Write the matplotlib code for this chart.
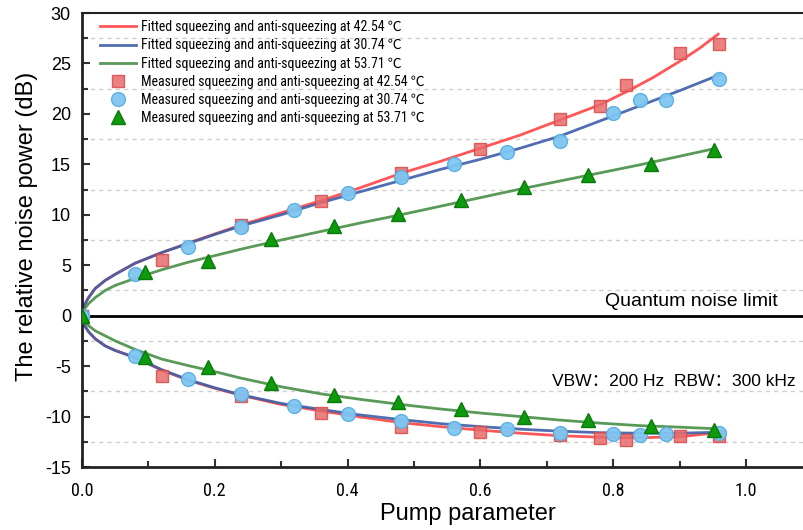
import matplotlib
matplotlib.use('Agg')
import matplotlib.pyplot as plt
from matplotlib import font_manager
from matplotlib.ticker import MultipleLocator

names = {f.name for f in font_manager.fontManager.ttflist}
NARROW = None
for cand in ['Liberation Sans Narrow', 'Arial Narrow', 'Roboto Condensed', 'Open Sans Condensed']:
    if cand in names:
        NARROW = cand
        break
plt.rcParams['font.family'] = ['Liberation Sans', 'Noto Sans CJK SC', 'DejaVu Sans']

# ---------------- data ----------------
temps = ['42.54', '30.74', '53.71']

# fitted curves
fit_x_red = [0, 0.004, 0.01, 0.02, 0.035, 0.05, 0.08, 0.12, 0.16, 0.2, 0.24, 0.3, 0.36, 0.42, 0.48,
             0.54, 0.6, 0.66, 0.72, 0.78, 0.82, 0.86, 0.9, 0.93, 0.958]
fit_up_red = [0, 1.1, 1.8, 2.7, 3.5, 4.1, 5.2, 6.25, 7.2, 8.1, 9.0, 10.2, 11.4, 12.7, 14.1,
              15.3, 16.6, 17.9, 19.4, 20.9, 22.2, 23.6, 25.2, 26.5, 27.9]
fit_x_red_lo = [0, 0.004, 0.01, 0.02, 0.035, 0.05, 0.08, 0.12, 0.16, 0.2, 0.24, 0.3, 0.36, 0.42, 0.48,
                0.54, 0.6, 0.66, 0.72, 0.78, 0.84, 0.9, 0.958]
fit_lo_red = [0, -1.0, -1.6, -2.3, -3.0, -3.45, -4.15, -5.4, -6.4, -7.2, -7.9, -8.8, -9.45, -10.05, -10.6,
              -11.0, -11.35, -11.65, -11.9, -12.05, -12.1, -12.0, -11.6]

fit_x_blue = [0, 0.004, 0.01, 0.02, 0.035, 0.05, 0.08, 0.12, 0.16, 0.2, 0.24, 0.3, 0.36, 0.42, 0.48,
              0.54, 0.6, 0.66, 0.72, 0.78, 0.84, 0.9, 0.961]
fit_up_blue = [0, 1.1, 1.8, 2.7, 3.5, 4.1, 5.2, 6.25, 7.15, 8.05, 8.9, 10.0, 11.2, 12.3, 13.4,
               14.5, 15.5, 16.6, 17.8, 19.3, 20.8, 22.3, 23.9]
fit_lo_blue = [0, -1.0, -1.6, -2.3, -3.0, -3.45, -4.15, -5.35, -6.35, -7.15, -7.85, -8.7, -9.3, -9.85, -10.3,
               -10.7, -11.0, -11.25, -11.45, -11.6, -11.65, -11.65, -11.55]

fit_x_green = [0, 0.004, 0.01, 0.02, 0.035, 0.05, 0.08, 0.12, 0.16, 0.2, 0.24, 0.3, 0.36, 0.42, 0.48,
               0.54, 0.6, 0.66, 0.72, 0.78, 0.84, 0.9, 0.952]
fit_up_green = [0, 0.7, 1.2, 1.8, 2.5, 3.0, 3.7, 4.55, 5.3, 5.95, 6.6, 7.5, 8.35, 9.2, 10.0,
                10.85, 11.7, 12.55, 13.35, 14.15, 14.95, 15.8, 16.55]
fit_lo_green = [0, -0.6, -1.0, -1.5, -2.0, -2.5, -3.35, -4.3, -4.95, -5.55, -6.2, -7.05, -7.75, -8.3, -8.8,
                -9.25, -9.65, -10.0, -10.35, -10.65, -10.9, -11.05, -11.2]

# measured points
meas_x_red = [0, 0.12, 0.24, 0.36, 0.48, 0.60, 0.72, 0.78, 0.82, 0.90, 0.96]
meas_up_red = [0, 5.5, 9.0, 11.4, 14.1, 16.5, 19.5, 20.8, 22.9, 26.0, 26.9]
meas_lo_red = [0, -6.0, -8.0, -9.6, -11.0, -11.55, -11.85, -12.1, -12.3, -11.95, -11.9]

meas_x_blue = [0, 0.08, 0.16, 0.24, 0.32, 0.40, 0.48, 0.56, 0.64, 0.72, 0.80, 0.84, 0.88, 0.96]
meas_up_blue = [0, 4.1, 6.8, 8.8, 10.5, 12.2, 13.7, 15.0, 16.2, 17.3, 20.1, 21.35, 21.35, 23.45]
meas_lo_blue = [0, -4.0, -6.25, -7.75, -8.95, -9.7, -10.4, -11.1, -11.2, -11.6, -11.75, -11.8, -11.7, -11.6]

meas_x_green = [0, 0.095, 0.19, 0.285, 0.38, 0.476, 0.571, 0.666, 0.762, 0.857, 0.952]
meas_up_green = [0, 4.3, 5.45, 7.6, 8.85, 10.1, 11.45, 12.75, 13.9, 15.05, 16.45]
meas_lo_green = [0, -4.05, -5.05, -6.7, -7.85, -8.55, -9.3, -10.05, -10.35, -10.95, -11.3]

x_ticks = [0.0, 0.2, 0.4, 0.6, 0.8, 1.0]
y_ticks = [-15, -10, -5, 0, 5, 10, 15, 20, 25, 30]

# ---------------- figure ----------------
fig = plt.figure(figsize=(8.04, 5.30), dpi=100)
ax = fig.add_axes([82/804, 63/530, 730.4/804, 454/530])

c_red, c_blue, c_green = '#ff4545', '#3d5ea8', '#478f47'
lw = 2.0

ax.plot(fit_x_red, fit_up_red, color=c_red, lw=lw, alpha=0.9,
        label=f'Fitted squeezing and anti-squeezing at {temps[0]} ℃')
ax.plot(fit_x_red_lo, fit_lo_red, color=c_red, lw=lw, alpha=0.9)
ax.plot(fit_x_blue, fit_up_blue, color=c_blue, lw=lw, alpha=0.9,
        label=f'Fitted squeezing and anti-squeezing at {temps[1]} ℃')
ax.plot(fit_x_blue, fit_lo_blue, color=c_blue, lw=lw, alpha=0.9)
ax.plot(fit_x_green, fit_up_green, color=c_green, lw=lw, alpha=0.9,
        label=f'Fitted squeezing and anti-squeezing at {temps[2]} ℃')
ax.plot(fit_x_green, fit_lo_green, color=c_green, lw=lw, alpha=0.9)

ax.axhline(0, color='black', lw=2.0, zorder=2)

sq = dict(marker='s', ms=9, mfc='#e86b6b', mec='#d94a4a', mew=1, ls='none', alpha=0.85, zorder=4)
ci = dict(marker='o', ms=10, mfc='#7ec6f2', mec='#5aaee0', mew=1, ls='none', alpha=0.95, zorder=5)
tr = dict(marker='^', ms=10, mfc='#0d9a0d', mec='#0a7a0a', mew=1, ls='none', zorder=6)

ax.plot(meas_x_red, meas_up_red, label=f'Measured squeezing and anti-squeezing at {temps[0]} ℃', **sq)
ax.plot(meas_x_red, meas_lo_red, **sq)
ax.plot(meas_x_blue, meas_up_blue, label=f'Measured squeezing and anti-squeezing at {temps[1]} ℃', **ci)
ax.plot(meas_x_blue, meas_lo_blue, **ci)
ax.plot(meas_x_green, meas_up_green, label=f'Measured squeezing and anti-squeezing at {temps[2]} ℃', **tr)
ax.plot(meas_x_green, meas_lo_green, **tr)

ax.set_xlim(0, 1.1)
ax.set_ylim(-15, 30)
ax.set_xticks(x_ticks)
if NARROW:
    ax.set_xticklabels([f'{v:.1f}' for v in x_ticks], fontfamily=NARROW, fontsize=13)
else:
    ax.set_xticklabels([f'{v:.1f}' for v in x_ticks], fontsize=11.5)
ax.set_yticks(y_ticks)
ax.set_yticklabels([str(v) for v in y_ticks], fontsize=13)
ax.xaxis.set_minor_locator(MultipleLocator(0.1))
ax.yaxis.set_minor_locator(MultipleLocator(2.5))
ax.tick_params(which='major', direction='in', length=6, width=1.5, color='#333333')
ax.tick_params(which='minor', direction='in', length=4.5, width=1.5, color='#333333')
ax.tick_params(axis='x', which='major', pad=11)
ax.tick_params(axis='y', which='major', pad=8)

for yg in [-12.5, -7.5, -2.5, 2.5, 7.5, 12.5, 17.5, 22.5, 27.5]:
    ax.axhline(yg, color='#cfcfcf', lw=1.0, ls=(0, (3, 3)), zorder=0)

for s in ['left', 'bottom']:
    ax.spines[s].set_linewidth(2.0)
    ax.spines[s].set_color('#222222')
ax.spines['top'].set_linewidth(1.5)
ax.spines['top'].set_color('#222222')
ax.spines['right'].set_visible(False)

ax.set_xlabel('Pump parameter', fontsize=17)
ax.set_ylabel('The relative noise power (dB)', fontsize=17)
ax.xaxis.set_label_coords((468 - 82) / 730.4, -(503 - 467) / 454)
ax.yaxis.set_label_coords((38 - 82) / 730.4, (467 - 226) / 454)

ax.text(0.788, 1.45, 'Quantum noise limit', fontsize=14, va='center', ha='left')
ax.text(0.708, -6.5, 'VBW：200 Hz  RBW：300 kHz', fontsize=12.6, va='center', ha='left')

leg_family = [NARROW, 'Noto Sans CJK SC'] if NARROW else ['Liberation Sans', 'Noto Sans CJK SC']
leg_size = 10.0 if NARROW else 9.8
ax.legend(loc='upper left', bbox_to_anchor=((100 - 82) / 730.4, 0.984), frameon=False,
          borderpad=0, borderaxespad=0, handlelength=2.6, handletextpad=0.32,
          labelspacing=0.3, prop={'family': leg_family, 'size': leg_size})

fig.savefig('out.png', dpi=100)
